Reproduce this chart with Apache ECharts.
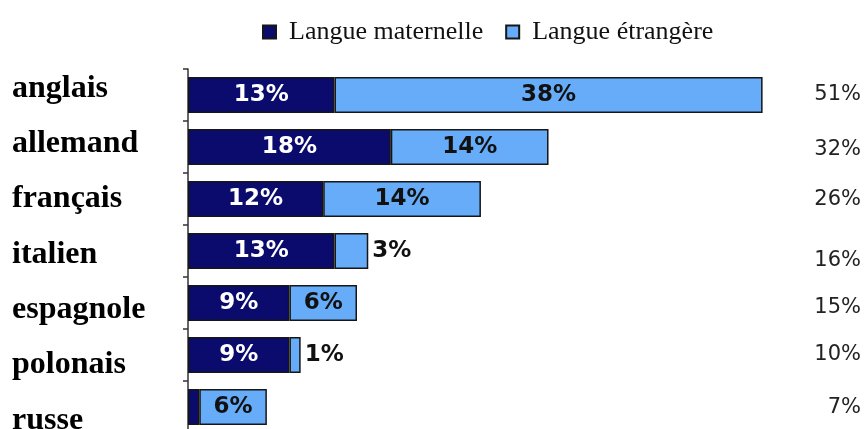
<!DOCTYPE html>
<html>
<head>
<meta charset="utf-8">
<script src="https://cdn.jsdelivr.net/npm/echarts@6/dist/echarts.min.js"></script>
<style>html,body{margin:0;padding:0;background:#fff}#c{width:865px;height:429px}</style>
</head>
<body>
<div id="c"></div>
<script>
const categories = ['anglais', 'allemand', 'français', 'italien', 'espagnole', 'polonais', 'russe'];
const maternelle = [13, 18, 12, 13, 9, 9, 1];
const etrangere = [38, 14, 14, 3, 6, 1, 6];
const totals = ['51%', '32%', '26%', '16%', '15%', '10%', '7%'];
const seriesNames = ['Langue maternelle', 'Langue étrangère'];

// vertical nudges of the total labels (px), as in the reference layout
const totalNudge = [0, 3, 1, 10, 5, 0, 1];

const darkColor = '#0b0b6e';
const lightColor = '#66acf8';
const border = '#161616';

const chart = echarts.init(document.getElementById('c'));

function labelFor(value, isDark) {
  if (isDark && value < 3) return { value: value, label: { show: false } };
  if (!isDark && value < 4) return { value: value, label: { position: 'right', distance: 4, color: '#111' } };
  return value;
}

const totalFont = { fontFamily: 'DejaVu Sans', fontSize: 21, color: '#222' };
const totalRich = {};
totalNudge.forEach((n, i) => {
  totalRich['n' + i] = Object.assign({}, totalFont, { padding: [2 * n, 0, 0, 0] });
});

chart.setOption({
  animation: false,
  legend: {
    left: 262, top: 19, padding: 0,
    itemWidth: 13, itemHeight: 13, itemGap: 22,
    icon: 'rect',
    textStyle: { fontFamily: 'Liberation Serif', fontSize: 26, color: '#111', padding: [0, 0, 0, 8] },
    data: seriesNames
  },
  grid: [
    { left: 188, top: 69, width: 676, height: 364, outerBoundsMode: 'none' },
    { left: 188, top: 61, width: 676, height: 387, outerBoundsMode: 'none' }
  ],
  xAxis: [
    { type: 'value', gridIndex: 0, min: 0, max: 60, show: false },
    { type: 'value', gridIndex: 1, min: 0, max: 60, show: false }
  ],
  yAxis: [
    {
      type: 'category', gridIndex: 0, inverse: true, data: categories,
      axisLine: { show: true, lineStyle: { color: '#333', width: 1.5 } },
      axisTick: { show: true, length: 5, lineStyle: { color: '#333', width: 1.5 } },
      axisLabel: { show: false }
    },
    {
      type: 'category', gridIndex: 0, inverse: true, position: 'right', data: totals,
      axisLine: { show: false }, axisTick: { show: false },
      axisLabel: Object.assign({
        margin: -3, align: 'right',
        formatter: (v, i) => '{n' + i + '|' + v + '}',
        rich: totalRich
      }, totalFont)
    },
    {
      type: 'category', gridIndex: 1, inverse: true, data: categories,
      axisLine: { show: false }, axisTick: { show: false },
      axisLabel: { align: 'left', margin: 176, fontFamily: 'Liberation Serif', fontWeight: 'bold', fontSize: 32, color: '#000' }
    }
  ],
  series: [
    {
      name: seriesNames[0], type: 'bar', stack: 'a', xAxisIndex: 0, yAxisIndex: 0,
      barWidth: 36,
      data: maternelle.map(v => labelFor(v, true)),
      itemStyle: { color: darkColor, borderColor: border, borderWidth: 1.5 },
      label: { show: true, position: 'inside', formatter: '{c}%', color: '#fff', fontFamily: 'DejaVu Sans', fontWeight: 'bold', fontSize: 23 }
    },
    {
      name: seriesNames[1], type: 'bar', stack: 'a', xAxisIndex: 0, yAxisIndex: 0,
      barWidth: 36,
      data: etrangere.map(v => labelFor(v, false)),
      itemStyle: { color: lightColor, borderColor: border, borderWidth: 1.5 },
      label: { show: true, position: 'inside', formatter: '{c}%', color: '#111', fontFamily: 'DejaVu Sans', fontWeight: 'bold', fontSize: 23 }
    }
  ]
});
</script>
</body>
</html>
